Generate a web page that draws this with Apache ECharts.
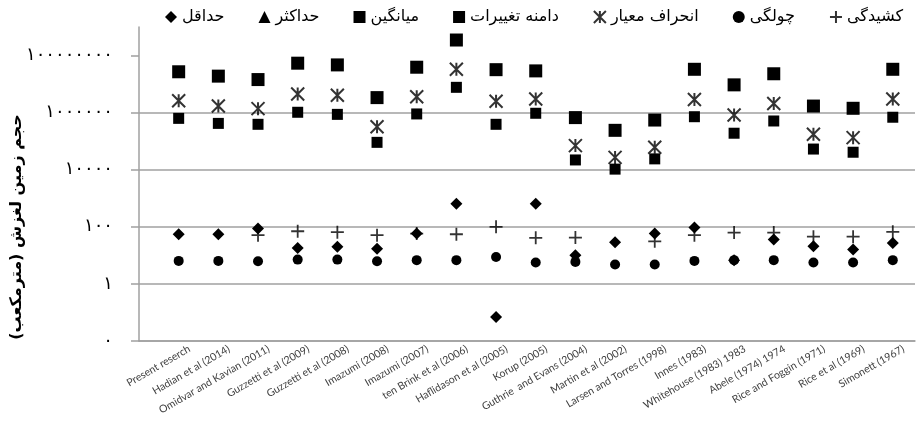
<!DOCTYPE html>
<html>
<head>
<meta charset="utf-8">
<script src="https://cdn.jsdelivr.net/npm/echarts@6/dist/echarts.min.js"></script>
<style>html,body{margin:0;padding:0;background:#fff}#c{width:919px;height:431px}</style>
</head>
<body>
<div id="c"></div>
<script>
const categories = ['Present reserch','Hadian et al (2014)','Omidvar and Kavian (2011)','Guzzetti et al (2009)','Guzzetti et al (2008)','Imazumi (2008)','Imazumi (2007)','ten Brink et al (2006)','Haflidason et al (2005)','Korup (2005)','Guthrie  and Evans (2004)','Martin et al (2002)','Larsen and Torres (1998)','Innes (1983)','Whitehouse (1983) 1983','Abele (1974) 1974','Rice and Foggin (1971)','Rice et al (1969)','Simonett (1967)'];
const minVals   = [55, 55, 87, 18, 20, 17, 58, 640, 0.07, 640, 10, 29, 58, 95, 6.8, 36, 21, 16, 27];
const maxVals   = [2.7e7, 1.9e7, 1.44e7, 5.4e7, 4.7e7, 3.36e6, 3.9e7, 3.5e8, 3.2e7, 2.9e7, 6.7e5, 2.4e5, 5.5e5, 3.3e7, 9.4e6, 2.3e7, 1.7e6, 1.42e6, 3.3e7];
const meanVals  = [6.3e5, 4.2e5, 3.9e5, 1.03e6, 8.7e5, 9.1e4, 9.0e5, 7.7e6, 3.9e5, 9.5e5, 2.2e4, 1.05e4, 2.4e4, 7.2e5, 1.9e5, 5.1e5, 5.3e4, 4.1e4, 6.9e5];
const rangeVals = [2.7e7, 1.9e7, 1.44e7, 5.4e7, 4.7e7, 3.36e6, 3.9e7, 3.5e8, 3.2e7, 2.9e7, 6.7e5, 2.4e5, 5.5e5, 3.3e7, 9.4e6, 2.3e7, 1.7e6, 1.42e6, 3.3e7];
const stdVals   = [2.6e6, 1.7e6, 1.38e6, 4.5e6, 4.05e6, 3.2e5, 3.6e6, 3.3e7, 2.5e6, 3.0e6, 7.0e4, 2.7e4, 6.1e4, 2.9e6, 8.3e5, 2.1e6, 1.74e5, 1.33e5, 3.0e6];
const skewVals  = [6.4, 6.4, 6.2, 7.1, 7.1, 6.2, 6.8, 6.8, 8.8, 5.6, 5.9, 4.8, 4.8, 6.4, 6.8, 6.8, 5.6, 5.6, 6.8];
const kurtVals  = [null, null, 51, 70, 65, 51, 58, 55, 100, 41, 42, null, 31, 51, 63, 63, 45, 45, 67];
const yTickValues = [0.01, 1, 100, 10000, 1000000, 100000000];
const yTickLabels = ['۰', '۱', '۱۰۰', '۱۰۰۰۰', '۱۰۰۰۰۰۰', '۱۰۰۰۰۰۰۰۰'];
const names = {
  min: 'حداقل', max: 'حداکثر', mean: 'میانگین', range: 'دامنه تغییرات',
  std: 'انحراف معیار', skew: 'چولگی', kurt: 'کشیدگی'
};
const yName = '\u200Fحجم زمین لغزش (مترمکعب)\u200F';

const STAR = 'path://M0,0 L10,10 M10,0 L0,10 M5,0 L5,10';
const PLUS = 'path://M0,5 L10,5 M5,0 L5,10';
const faFont = 'DejaVu Sans';
const LABEL_SHIFT = 0.27;

// x positions: category i sits at i (1..19) on a value axis
const xPos = categories.map((c, i) => i + 1);
const xLabelPos = xPos.map(p => p + LABEL_SHIFT);

function pts(vals) { return vals.map((v, i) => [xPos[i], v]); }

function yLabelFor(v) {
  const e = Math.round(Math.log10(v));
  for (let i = 0; i < yTickValues.length; i++) {
    if (Math.round(Math.log10(yTickValues[i])) === e) return yTickLabels[i];
  }
  return '';
}
function xLabelFor(v) {
  const i = Math.round(v - LABEL_SHIFT) - 1;
  return categories[i] !== undefined ? categories[i] : '';
}

function sc(name, data, symbol, size, extra) {
  return Object.assign({
    name: name, type: 'scatter', data: pts(data), symbol: symbol, symbolSize: size,
    clip: false, silent: true,
    itemStyle: { color: '#000', opacity: 1 },
    emphasis: { disabled: true }
  }, extra || {});
}

const chart = echarts.init(document.getElementById('c'), null, { renderer: 'canvas' });
chart.setOption({
  animation: false,
  backgroundColor: '#fff',
  grid: { left: 139, right: 4, top: 27, bottom: 90, containLabel: false },
  legend: {
    top: 4, left: 160, align: 'left', itemGap: 34, itemWidth: 12, itemHeight: 12,
    textStyle: { fontFamily: faFont, fontSize: 16, color: '#000' },
    data: [names.min, names.max, names.mean, names.range, names.std, names.skew, names.kurt]
  },
  graphic: [{
    type: 'text', x: 17, y: 227, rotation: Math.PI / 2,
    style: { text: yName, fontFamily: faFont, fontSize: 16, fontWeight: 'bold', fill: '#000', align: 'center', verticalAlign: 'middle' }
  }],
  xAxis: {
    type: 'value', min: 0, max: 19.56,
    axisLine: { show: true, onZero: false, lineStyle: { color: '#a0a0a0', width: 1.5 } },
    axisTick: { show: false },
    axisLabel: { rotate: 30, fontFamily: 'Lato', fontSize: 10.5, color: '#404040', margin: 7, customValues: xLabelPos, formatter: xLabelFor, showMinLabel: true, showMaxLabel: true },
    splitLine: { show: false }
  },
  yAxis: {
    type: 'log', logBase: 10, min: 0.01, max: 1e9, interval: 2,
    axisLine: { show: true, lineStyle: { color: '#a0a0a0', width: 1.5 } },
    axisTick: { show: true, length: 8, lineStyle: { color: '#a0a0a0', width: 1.5 }, customValues: yTickValues },
    axisLabel: { fontFamily: faFont, fontSize: 18, color: '#000', margin: 26, customValues: yTickValues, formatter: yLabelFor },
    splitLine: { show: true, showMaxLine: false, lineStyle: { color: '#a0a0a0', width: 1.5 } }
  },
  series: [
    sc(names.kurt, kurtVals, PLUS, 13, { itemStyle: { color: '#000', borderColor: '#000', borderWidth: 1.8 } }),
    sc(names.max, maxVals, 'triangle', 11),
    sc(names.range, rangeVals, 'rect', 13),
    sc(names.mean, meanVals, 'rect', 11),
    sc(names.std, stdVals, STAR, 13, { itemStyle: { color: '#000', borderColor: '#000', borderWidth: 2 } }),
    sc(names.min, minVals, 'diamond', 12),
    sc(names.skew, skewVals, 'circle', 10)
  ]
});
</script>
</body>
</html>
